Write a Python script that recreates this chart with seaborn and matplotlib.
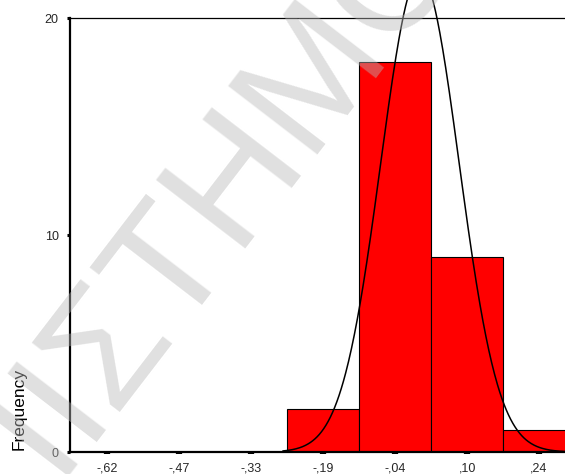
import numpy as np
import pandas as pd
import matplotlib
matplotlib.use("Agg")
import matplotlib.pyplot as plt
import seaborn as sns

# Histogram bins (centres) and frequencies
bin_centers = [-0.62, -0.477, -0.333, -0.19, -0.047, 0.097, 0.24]
bin_labels = ["-,62", "-,47", "-,33", "-,19", "-,04", ",10", ",24"]
frequencies = [0, 0, 0, 2, 18, 9, 1]
bin_width = 0.1433

# Fitted normal curve
normal_mean = 0.003
normal_sd = 0.078
curve_range = (-0.27, 0.31)

y_ticks = [0, 10, 20]

sns.set_theme(style="white")
plt.rcParams["font.family"] = ["Liberation Sans", "DejaVu Sans"]

fig = plt.figure(figsize=(5.65, 4.74), dpi=100)
ax = fig.add_axes([0.1239, 0.0464, 0.9012, 0.915])

df = pd.DataFrame({"value": bin_centers, "count": frequencies})
lo = bin_centers[0] - bin_width / 2
hi = bin_centers[-1] + bin_width / 2
sns.histplot(data=df, x="value", weights="count", binwidth=bin_width,
             binrange=(lo, hi), ax=ax,
             color="#ff0000", alpha=1.0, edgecolor="black", linewidth=0.8)

n_total = sum(frequencies)
xs = np.linspace(curve_range[0], curve_range[1], 400)
ys = n_total * bin_width / (normal_sd * np.sqrt(2 * np.pi)) * np.exp(-0.5 * ((xs - normal_mean) / normal_sd) ** 2)
sns.lineplot(x=xs, y=ys, ax=ax, color="black", linewidth=1.1)
for ln in ax.lines:
    ln.set_clip_on(False)

ax.set_xlim(-0.6937, 0.32)
ax.set_ylim(0, 20)
ax.set_xticks(bin_centers)
ax.set_xticklabels(bin_labels)
ax.set_yticks(y_ticks)
ax.set_xlabel("")
ax.set_ylabel("")

for side in ["left", "bottom"]:
    ax.spines[side].set_color("black")
    ax.spines[side].set_linewidth(1.6)
ax.spines["top"].set_color("black")
ax.spines["top"].set_linewidth(0.9)
ax.spines["right"].set_visible(False)

ax.tick_params(axis="x", direction="out", length=1.6, width=4.5, color="black",
               labelsize=9, pad=6, bottom=True)
ax.tick_params(axis="y", direction="out", length=2.2, width=2.2, color="black",
               labelsize=9, pad=6, left=True)

fig.text(19 / 565, 1 - 409 / 474, "Frequency", rotation=90, ha="center", va="center",
         fontsize=12.5, color="black")

# Diagonal watermark
wm_kw = dict(fontsize=118, rotation=52.5, rotation_mode="anchor", va="baseline",
             color=(184 / 255, 184 / 255, 184 / 255), alpha=0.44, zorder=10)
anchor = (82 / 565, 1 - 442 / 474)
fig.text(anchor[0], anchor[1], "ΙΣΤΗΜΟΝ", ha="left", **wm_kw)
fig.text(anchor[0], anchor[1], "ΕΠ", ha="right", **wm_kw)

fig.savefig("out.png", dpi=100)
